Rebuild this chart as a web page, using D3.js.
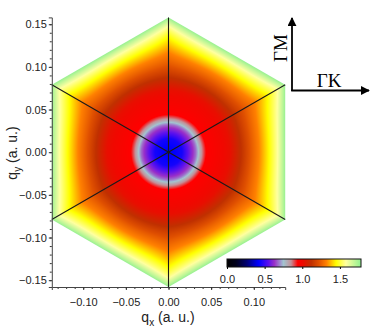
<!DOCTYPE html>
<html>
<head>
<meta charset="utf-8">
<script src="https://cdn.jsdelivr.net/npm/d3@7"></script>
<style>
  body { margin: 0; background: #fff; }
  svg { display: block; }
  .tick text { font-family: "Liberation Sans", Arial, sans-serif; font-size: 11px; fill: #222; }
</style>
</head>
<body>
<div id="chart"></div>
<script>
var svgWidth = 374;
var svgHeight = 332;

// Brillouin zone size (a. u.): corner radius, flat-edge distance
var zoneR = 0.158;
var zoneA = zoneR * Math.sqrt(3) / 2;

// radial profile of the map (q in a. u. -> value)
var profileQ = [0, 0.016, 0.022, 0.028, 0.032, 0.035, 0.039, 0.044, 0.072, 0.085, 0.097, 0.106, 0.118, 0.128, 0.134, 0.137];
var profileV = [0.40, 0.45, 0.54, 0.62, 0.68, 0.75, 0.85, 0.94, 1.02, 1.12, 1.24, 1.32, 1.45, 1.58, 1.70, 1.77];

// colour map of the colour bar
var cmapStops = [0, 0.12, 0.26, 0.42, 0.55, 0.63, 0.75, 0.85, 0.94, 1.00, 1.12, 1.22, 1.32, 1.45, 1.58, 1.78];
var cmapColors = ["#000000", "#00001c", "#000070", "#0000ff", "#5a10ee", "#9a30c8", "#a2c4d0", "#c49098",
                  "#ff0000", "#f00800", "#c03000", "#e05000", "#ff8000", "#ffff00", "#ffffa0", "#90f090"];

var xTicks = [-0.10, -0.05, 0.00, 0.05, 0.10];
var yTicks = [-0.15, -0.10, -0.05, 0.00, 0.05, 0.10, 0.15];
var cbTicks = [0.0, 0.5, 1.0, 1.5];
var cbMax = 1.78;

var svg = d3.select("#chart")
  .append("svg")
  .attr("width", svgWidth)
  .attr("height", svgHeight);

var x = d3.scaleLinear().domain([-zoneA, zoneA]).range([51.8, 285.2]);
var y = d3.scaleLinear().domain([-zoneR, zoneR]).range([287, 17.4]);

var profile = d3.scaleLinear().domain(profileQ).range(profileV).clamp(true);
var cmap = d3.scaleLinear().domain(cmapStops).range(cmapColors)
  .interpolate(d3.interpolateRgb).clamp(true);

// hexagon corners
var hexPts = d3.range(6).map(function(i) {
  var ang = Math.PI / 2 + i * Math.PI / 3;
  return [zoneR * Math.cos(ang), zoneR * Math.sin(ang)];
});

// heat map into a canvas, then into the svg
var x0 = Math.floor(x.range()[0]), x1 = Math.ceil(x.range()[1]);
var y0 = Math.floor(y.range()[1]), y1 = Math.ceil(y.range()[0]);
var cw = x1 - x0, ch = y1 - y0;
var canvas = document.createElement("canvas");
canvas.width = cw;
canvas.height = ch;
var ctx = canvas.getContext("2d");
var img = ctx.createImageData(cw, ch);
var s3 = Math.sqrt(3) / 2;
for (var j = 0; j < ch; j++) {
  for (var i = 0; i < cw; i++) {
    var qx = x.invert(x0 + i + 0.5);
    var qy = y.invert(y0 + j + 0.5);
    var r = Math.sqrt(qx * qx + qy * qy);
    // round near the centre, hexagonal near the zone edge
    var h = Math.max(Math.abs(qx), Math.abs(0.5 * qx + s3 * qy), Math.abs(-0.5 * qx + s3 * qy));
    var t = Math.min(1, Math.max(0, (r - 0.06) / 0.09));
    t = t * t * (3 - 2 * t);
    var d = r * (1 - t) + h * t;
    var c = d3.rgb(cmap(profile(d)));
    var k = (j * cw + i) * 4;
    img.data[k] = c.r;
    img.data[k + 1] = c.g;
    img.data[k + 2] = c.b;
    img.data[k + 3] = 255;
  }
}
ctx.putImageData(img, 0, 0);

svg.append("clipPath")
  .attr("id", "hexClip")
  .append("polygon")
  .attr("points", hexPts.map(function(p) { return x(p[0]) + "," + y(p[1]); }).join(" "));

svg.append("image")
  .attr("x", x0)
  .attr("y", y0)
  .attr("width", cw)
  .attr("height", ch)
  .attr("preserveAspectRatio", "none")
  .attr("href", canvas.toDataURL())
  .attr("clip-path", "url(#hexClip)");

// lines joining opposite corners
for (var n = 0; n < 3; n++) {
  svg.append("line")
    .attr("x1", x(hexPts[n][0])).attr("y1", y(hexPts[n][1]))
    .attr("x2", x(hexPts[n + 3][0])).attr("y2", y(hexPts[n + 3][1]))
    .attr("stroke", "#1a1a1a")
    .attr("stroke-width", 1.1);
}

// axes
var minorX = d3.range(-13, 14).map(function(v) { return v / 100; });
var minorY = d3.range(-15, 16).map(function(v) { return v / 100; });

var xAxisG = svg.append("g").attr("transform", "translate(0," + y.range()[0] + ")");
xAxisG.append("g")
  .call(d3.axisBottom(x).tickValues(minorX).tickSize(2).tickFormat(""))
  .call(function(g) { g.select(".domain").remove(); });
xAxisG.append("g")
  .call(d3.axisBottom(x).tickValues(xTicks).tickSize(3).tickPadding(8).tickFormat(d3.format(".2f")))
  .call(function(g) { g.select(".domain").attr("stroke", "#444"); });

var yAxisG = svg.append("g").attr("transform", "translate(" + x.range()[0] + ",0)");
yAxisG.append("g")
  .call(d3.axisLeft(y).tickValues(minorY).tickSize(2).tickFormat(""))
  .call(function(g) { g.select(".domain").remove(); });
yAxisG.append("g")
  .call(d3.axisLeft(y).tickValues(yTicks).tickSize(3).tickPadding(2).tickFormat(d3.format(".2f")))
  .call(function(g) { g.select(".domain").attr("stroke", "#444"); });

svg.selectAll(".tick line").attr("stroke", "#333");

// axis titles
var xTitle = svg.append("text")
  .attr("x", 168).attr("y", 322)
  .attr("text-anchor", "middle")
  .style("font-family", "Liberation Sans, Arial, sans-serif")
  .style("font-size", "14px")
  .attr("fill", "#222");
xTitle.append("tspan").text("q");
xTitle.append("tspan").attr("dy", 4).style("font-size", "10px").text("x");
xTitle.append("tspan").attr("dy", -4).text(" (a. u.)");

var yTitle = svg.append("text")
  .attr("transform", "translate(17,153) rotate(-90)")
  .attr("text-anchor", "middle")
  .style("font-family", "Liberation Sans, Arial, sans-serif")
  .style("font-size", "14px")
  .attr("fill", "#222");
yTitle.append("tspan").text("q");
yTitle.append("tspan").attr("dy", 4).style("font-size", "10px").text("y");
yTitle.append("tspan").attr("dy", -4).text(" (a. u.)");

// colour bar
var cb = d3.scaleLinear().domain([0, cbMax]).range([227, 361]);
var grad = svg.append("defs").append("linearGradient").attr("id", "cbGrad");
cmapStops.forEach(function(s, i) {
  grad.append("stop").attr("offset", (s / cbMax * 100) + "%").attr("stop-color", cmapColors[i]);
});
svg.append("rect")
  .attr("x", cb(0)).attr("y", 259)
  .attr("width", cb(cbMax) - cb(0)).attr("height", 8)
  .attr("fill", "url(#cbGrad)")
  .attr("stroke", "#111").attr("stroke-width", 1);
svg.append("g")
  .attr("transform", "translate(0,267)")
  .call(d3.axisBottom(cb).tickValues(cbTicks).tickSize(2).tickPadding(6).tickFormat(d3.format(".1f")))
  .call(function(g) { g.select(".domain").remove(); });

// direction arrows
var defs = svg.append("defs");
defs.append("marker")
  .attr("id", "arrow")
  .attr("viewBox", "0 0 10 10")
  .attr("refX", 9).attr("refY", 5)
  .attr("markerWidth", 5).attr("markerHeight", 5)
  .attr("orient", "auto")
  .append("path").attr("d", "M0,0L10,5L0,10Z").attr("fill", "#000");

svg.append("line")
  .attr("x1", 292).attr("y1", 91).attr("x2", 292).attr("y2", 18)
  .attr("stroke", "#000").attr("stroke-width", 1.8).attr("marker-end", "url(#arrow)");
svg.append("line")
  .attr("x1", 291.2).attr("y1", 90.5).attr("x2", 369).attr("y2", 90.5)
  .attr("stroke", "#000").attr("stroke-width", 1.8).attr("marker-end", "url(#arrow)");

svg.append("text")
  .attr("transform", "translate(287,48) rotate(-90)")
  .attr("text-anchor", "middle")
  .style("font-family", "Liberation Serif, Times New Roman, serif")
  .style("font-size", "19px")
  .text("ΓM");
svg.append("text")
  .attr("x", 329).attr("y", 87)
  .attr("text-anchor", "middle")
  .style("font-family", "Liberation Serif, Times New Roman, serif")
  .style("font-size", "19px")
  .text("ΓK");
</script>
</body>
</html>
